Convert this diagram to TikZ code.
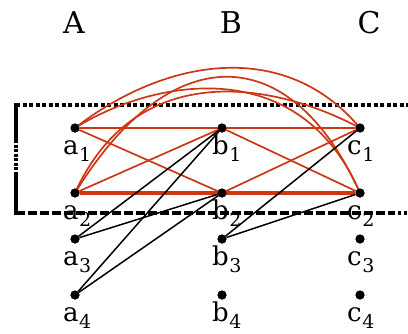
\documentclass[tikz,border=0pt]{standalone}
\usepackage{fontspec}
\setmainfont{DejaVu Serif}
\newcommand{\lab}[2]{#1\kern0.5pt\raisebox{-7pt}{\fontsize{19}{20}\selectfont #2}}
\begin{document}
\begin{tikzpicture}[x=1pt,y=-1pt,
  vtx/.style={circle,fill=black,inner sep=0pt,minimum size=9pt},
  lbl/.style={anchor=base west,inner sep=0pt,font=\fontsize{26}{28}\selectfont},
  hdr/.style={anchor=base,inner sep=0pt,font=\fontsize{30}{32}\selectfont},
  rd/.style={draw={rgb,255:red,205;green,55;blue,20},line width=1.7pt},
  rdthick/.style={draw={rgb,255:red,205;green,55;blue,20},line width=3.5pt},
  bk/.style={draw=black,line width=1.5pt},
  frame/.style={draw=black,line width=3.5pt}]
\useasboundingbox (0,0) rectangle (408,333);
% headers
\node[hdr] (hA) at (74,33) {A};
\node[hdr] (hB) at (231,33) {B};
\node[hdr] (hC) at (369,33) {C};
% vertices
\foreach \n/\x in {a/75,b/222,c/360}{
  \node[vtx] (\n1) at (\x,128) {};
  \node[vtx] (\n2) at (\x,193) {};
  \node[vtx] (\n3) at (\x,239) {};
  \node[vtx] (\n4) at (\x,295) {};
}
% frame
\draw[frame,dash pattern=on 4pt off 2.5pt] (16,105) -- (410,105);
\draw[frame] (16,103.3) -- (16,140);
\draw[frame,dash pattern=on 3pt off 1.5pt] (16,140) -- (16,172);
\draw[frame] (16,172) -- (16,214.7);
\draw[frame,dash pattern=on 9pt off 3pt] (16,213) -- (392,213);
\draw[frame,dash pattern=on 3pt off 3pt] (392,213) -- (410,213);
% red edges
\draw[rd] (a1) -- (c1);
\draw[rdthick] (a2) -- (c2);
\draw[rd] (a1) -- (b2);
\draw[rd] (a2) -- (b1);
\draw[rd] (b1) -- (c2);
\draw[rd] (b2) -- (c1);
\draw[rd] (a1.center) .. controls +(90,-70) and +(-75,-90) .. (c1.center);
\draw[rd] (a2.center) .. controls +(95,-155) and +(-70,-155) .. (c2.center);
\draw[rd] (a1.center) .. controls +(80,-50) and +(-60,-140) .. (c2.center);
\draw[rd] (a2.center) .. controls +(60,-133) and +(-90,-48) .. (c1.center);
% black edges
\draw[bk] (a3) -- (b1);
\draw[bk] (a3) -- (b2);
\draw[bk] (a4) -- (b1);
\draw[bk] (a4) -- (b2);
\draw[bk] (b3) -- (c1);
\draw[bk] (b3) -- (c2);
% redraw vertices on top
\foreach \n in {a1,a2,a3,a4,b1,b2,b3,b4,c1,c2,c3,c4}{\fill (\n) circle (4.5pt);}
% labels
\foreach \n/\dx in {a/-12,b/-10,c/-13}{
  \foreach \i in {1,2,3,4}{
    \node[lbl] (l\n\i) at ([xshift=\dx pt,yshift=-26pt]\n\i.center) {\lab{\n}{\i}};
  }
}
\end{tikzpicture}
\end{document}
